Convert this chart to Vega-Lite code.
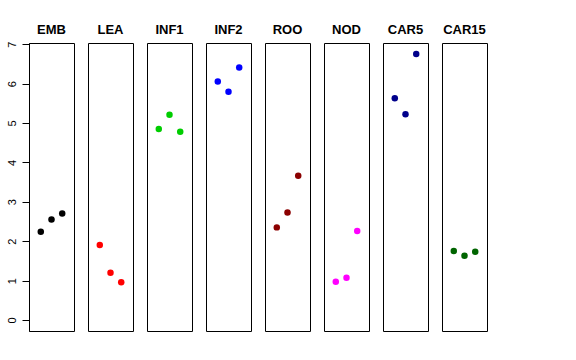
{
  "$schema": "https://vega.github.io/schema/vega-lite/v6.json",
  "padding": {"left": 5, "top": 24, "right": 5, "bottom": 5},
  "background": "white",
  "bounds": "flush",
  "data": {"values": [
    {"g": "EMB", "i": 1, "v": 2.24}, {"g": "EMB", "i": 2, "v": 2.55}, {"g": "EMB", "i": 3, "v": 2.70},
    {"g": "LEA", "i": 1, "v": 1.90}, {"g": "LEA", "i": 2, "v": 1.20}, {"g": "LEA", "i": 3, "v": 0.96},
    {"g": "INF1", "i": 1, "v": 4.85}, {"g": "INF1", "i": 2, "v": 5.21}, {"g": "INF1", "i": 3, "v": 4.78},
    {"g": "INF2", "i": 1, "v": 6.05}, {"g": "INF2", "i": 2, "v": 5.79}, {"g": "INF2", "i": 3, "v": 6.41},
    {"g": "ROO", "i": 1, "v": 2.35}, {"g": "ROO", "i": 2, "v": 2.73}, {"g": "ROO", "i": 3, "v": 3.66},
    {"g": "NOD", "i": 1, "v": 0.97}, {"g": "NOD", "i": 2, "v": 1.07}, {"g": "NOD", "i": 3, "v": 2.26},
    {"g": "CAR5", "i": 1, "v": 5.63}, {"g": "CAR5", "i": 2, "v": 5.22}, {"g": "CAR5", "i": 3, "v": 6.75},
    {"g": "CAR15", "i": 1, "v": 1.75}, {"g": "CAR15", "i": 2, "v": 1.63}, {"g": "CAR15", "i": 3, "v": 1.73}
  ]},
  "facet": {
    "column": {
      "field": "g", "type": "nominal",
      "sort": ["EMB", "LEA", "INF1", "INF2", "ROO", "NOD", "CAR5", "CAR15"],
      "header": {"title": null, "labelFont": "Liberation Sans", "labelFontSize": 13, "labelFontWeight": "bold", "labelColor": "black", "labelPadding": 6}
    }
  },
  "spacing": 14,
  "spec": {
    "width": 45,
    "height": 288,
    "mark": {"type": "circle", "size": 42, "opacity": 1},
    "encoding": {
      "x": {"field": "i", "type": "quantitative", "scale": {"domain": [-0.1, 4.1], "nice": false, "zero": false}, "axis": null},
      "y": {"field": "v", "type": "quantitative", "scale": {"domain": [-0.28, 7.03], "nice": false, "zero": false},
        "axis": {"title": null, "values": [0, 1, 2, 3, 4, 5, 6, 7], "grid": false, "labelAngle": -90, "labelAlign": "center", "labelBaseline": "bottom",
          "labelFont": "Liberation Sans", "labelFontSize": 11, "labelColor": "black", "tickColor": "black", "tickSize": 7, "domainColor": "black",
          "labelPadding": 5, "minExtent": 24, "maxExtent": 24}},
      "color": {"field": "g", "type": "nominal", "legend": null,
        "scale": {"domain": ["EMB", "LEA", "INF1", "INF2", "ROO", "NOD", "CAR5", "CAR15"],
          "range": ["#000000", "#FF0000", "#00CD00", "#0000FF", "#8B0000", "#FF00FF", "#00008B", "#006400"]}}
    }
  },
  "config": {"view": {"stroke": "black", "strokeWidth": 1}}
}
